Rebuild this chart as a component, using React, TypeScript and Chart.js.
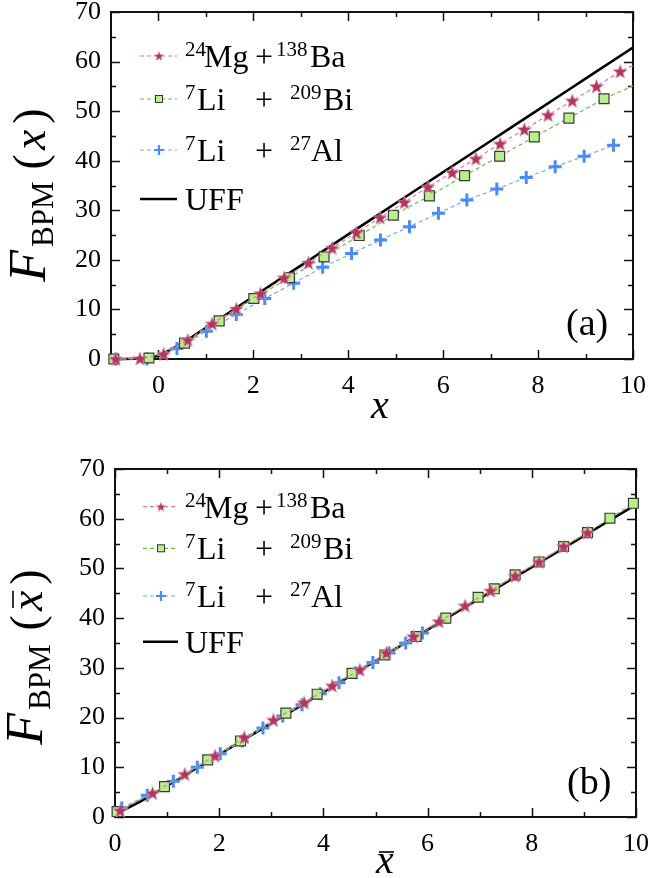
import React, { useEffect, useRef } from 'react';
import { Chart, registerables } from 'chart.js';
Chart.register(...registerables);

// ---------------- Panel (a) data ----------------
const mgBaXA = [-0.9, -0.39, 0.11, 0.62, 1.13, 1.64, 2.15, 2.65, 3.16, 3.66, 4.17, 4.67, 5.18, 5.68, 6.19, 6.69, 7.2, 7.71, 8.21, 8.72, 9.23, 9.73, 10.24];
const mgBaYA = [0.0, 0.1, 1.0, 3.8, 7.1, 10.1, 13.2, 16.4, 19.4, 22.4, 25.5, 28.5, 31.6, 34.7, 37.6, 40.4, 43.4, 46.3, 49.2, 52.1, 55.0, 58.0, 60.3];
const liBiXA = [-0.94, -0.2, 0.55, 1.28, 2.01, 2.76, 3.49, 4.23, 4.95, 5.71, 6.45, 7.19, 7.92, 8.65, 9.39, 10.12];
const liBiYA = [0.0, 0.2, 3.2, 7.7, 12.2, 16.4, 20.6, 24.9, 29.0, 32.9, 37.0, 40.9, 44.8, 48.6, 52.5, 55.6];
const liAlXA = [-0.9, -0.24, 0.39, 1.01, 1.64, 2.24, 2.85, 3.46, 4.07, 4.68, 5.29, 5.9, 6.5, 7.13, 7.75, 8.36, 8.97, 9.59];
const liAlYA = [0.0, 0.0, 2.1, 5.6, 9.0, 12.2, 15.3, 18.5, 21.3, 24.0, 26.7, 29.4, 32.1, 34.3, 36.6, 38.8, 40.9, 43.1];
const uffXA = [-1, -0.5, -0.25, 0, 0.25, 0.5, 0.75, 1, 1.5, 2, 3, 4, 5, 6, 7, 8, 9, 10];
const uffYA = [0.0, 0.04, 0.19, 0.69, 1.86, 3.18, 4.72, 6.29, 9.42, 12.57, 18.85, 25.13, 31.42, 37.7, 43.98, 50.27, 56.55, 62.83];

// ---------------- Panel (b) data ----------------
const mgBaXB = [0.1, 0.72, 1.34, 1.92, 2.48, 3.04, 3.63, 4.17, 4.7, 5.21, 5.73, 6.22, 6.72, 7.21, 7.68, 8.14, 8.61, 9.07];
const mgBaYB = [1.3, 4.8, 8.6, 12.3, 16.0, 19.5, 23.0, 26.4, 29.6, 33.0, 36.3, 39.3, 42.5, 45.5, 48.5, 51.3, 54.4, 57.2];
const liBiXB = [0.04, 0.95, 1.78, 2.41, 3.28, 3.88, 4.55, 5.18, 5.78, 6.35, 6.97, 7.28, 7.68, 8.14, 8.61, 9.07, 9.5, 9.95];
const liBiYB = [1.1, 6.1, 11.5, 15.3, 20.9, 24.7, 28.9, 32.6, 36.3, 40.0, 44.2, 45.9, 48.7, 51.3, 54.4, 57.2, 60.1, 63.1];
const liAlXB = [0.13, 0.62, 1.12, 1.58, 2.02, 2.44, 2.84, 3.22, 3.59, 3.94, 4.3, 4.62, 4.95, 5.26, 5.58, 5.9];
const liAlYB = [1.8, 4.4, 7.2, 10.0, 12.7, 15.3, 17.9, 20.3, 22.6, 24.8, 27.0, 29.0, 31.1, 33.0, 35.0, 37.0];
const uffXB = [0, 0.25, 0.5, 0.75, 1, 1.5, 2, 3, 4, 5, 6, 7, 8, 9, 10];
const uffYB = [0.69, 1.86, 3.18, 4.72, 6.29, 9.42, 12.57, 18.85, 25.13, 31.42, 37.7, 43.98, 50.27, 56.55, 62.83];

// ---------------- ticks ----------------
const xMajorTicks = [0, 2, 4, 6, 8, 10];
const xMinorTicks = [1, 3, 5, 7, 9];
const yMajorTicks = [0, 10, 20, 30, 40, 50, 60, 70];
const yMinorTicks = [5, 15, 25, 35, 45, 55, 65];

const seriesNames = ['24Mg+138Ba', '7Li + 209Bi', '7Li + 27Al', 'UFF'];

const SERIF = '"Liberation Serif", "Times New Roman", "DejaVu Serif", serif';
const MG = '#B2345F';
const MG_LINE = '#DE7B9A';
const GREEN_FILL = '#B8F08B';
const GREEN_LINE = '#6CBB48';
const BLUE = '#4A8CF5';
const BLUE_LINE = '#78A9F5';

const pts = (xs: number[], ys: number[]) => xs.map((x, i) => ({ x, y: ys[i] }));

function makeStar(outer: number, inner: number) {
  const s = Math.ceil(outer * 2 + 4);
  const c = document.createElement('canvas');
  c.width = s; c.height = s;
  const ctx = c.getContext('2d')!;
  ctx.beginPath();
  for (let i = 0; i < 10; i++) {
    const a = -Math.PI / 2 + (i * Math.PI) / 5;
    const r = i % 2 ? inner : outer;
    const px = s / 2 + r * Math.cos(a);
    const py = s / 2 + r * Math.sin(a) + outer * 0.08;
    if (i === 0) ctx.moveTo(px, py); else ctx.lineTo(px, py);
  }
  ctx.closePath();
  ctx.fillStyle = MG;
  ctx.fill();
  ctx.strokeStyle = '#E8A0B4';
  ctx.lineWidth = 0.6;
  ctx.stroke();
  return c;
}

type Seg = { t: string; font: string; dy?: number; gap?: number; bar?: number; barShift?: number; at?: number };

function drawSegs(ctx: CanvasRenderingContext2D, segs: Seg[], x: number, y: number) {
  let cx = x;
  for (const s of segs) {
    if (s.at !== undefined) cx = x + s.at;
    ctx.font = s.font;
    const w = ctx.measureText(s.t).width;
    ctx.fillText(s.t, cx, y + (s.dy || 0));
    if (s.bar) {
      const sh = s.barShift || 0;
      ctx.save();
      ctx.lineWidth = 1.6;
      ctx.beginPath();
      ctx.moveTo(cx + w * 0.1 + sh, y - s.bar);
      ctx.lineTo(cx + w * 0.95 + sh, y - s.bar);
      ctx.stroke();
      ctx.restore();
    }
    cx += w + (s.gap || 0);
  }
}
function segsWidth(ctx: CanvasRenderingContext2D, segs: Seg[]) {
  let w = 0;
  for (const s of segs) { ctx.font = s.font; w += ctx.measureText(s.t).width + (s.gap || 0); }
  return w;
}

const reg = (size: number) => `${size}px ${SERIF}`;
const ital = (size: number) => `italic ${size}px ${SERIF}`;

function legendRows(): Seg[][] {
  const M = reg(32), S = reg(21), up = -11;
  return [
    [{ t: '24', font: S, dy: up, at: 0 }, { t: 'Mg', font: M, at: 19 }, { t: '+', font: M, at: 70 }, { t: '138', font: S, dy: up, at: 91 }, { t: 'Ba', font: M, at: 125 }],
    [{ t: '7', font: S, dy: up, at: 0 }, { t: 'Li', font: M, at: 12 }, { t: '+', font: M, at: 70 }, { t: '209', font: S, dy: up, at: 105 }, { t: 'Bi', font: M, at: 138 }],
    [{ t: '7', font: S, dy: up, at: 0 }, { t: 'Li', font: M, at: 12 }, { t: '+', font: M, at: 70 }, { t: '27', font: S, dy: up, at: 105 }, { t: 'Al', font: M, at: 126 }],
    [{ t: 'UFF', font: M, at: 0 }],
  ];
}

type Deco = {
  legendX: number;
  lineL: number; lineR: number; textX: number;
  rows: number[];
  yLabel: Seg[]; yLabelX: number; yLabelCY: number;
  xLabel: Seg[]; xLabelCX: number; xLabelY: number;
  panel: string; panelX: number; panelY: number;
};

function decoPlugin(d: Deco, legendStar: HTMLCanvasElement) {
  return {
    id: 'deco',
    beforeDatasetsDraw(chart: any) {
      const { ctx, chartArea: a, scales } = chart;
      const x = scales.x, y = scales.y;
      ctx.save();
      ctx.strokeStyle = '#111';
      ctx.lineWidth = 1.5;
      const tick = (vals: number[], len: number, horiz: boolean) => {
        for (const v of vals) {
          if (horiz) {
            const p = Math.round(x.getPixelForValue(v)) + 0.5;
            ctx.beginPath();
            ctx.moveTo(p, a.bottom); ctx.lineTo(p, a.bottom - len);
            ctx.moveTo(p, a.top); ctx.lineTo(p, a.top + len);
            ctx.stroke();
          } else {
            const p = Math.round(y.getPixelForValue(v)) + 0.5;
            ctx.beginPath();
            ctx.moveTo(a.left, p); ctx.lineTo(a.left + len, p);
            ctx.moveTo(a.right, p); ctx.lineTo(a.right - len, p);
            ctx.stroke();
          }
        }
      };
      tick(xMajorTicks, 9, true);
      tick(xMinorTicks, 5, true);
      tick(yMajorTicks, 9, false);
      tick(yMinorTicks, 5, false);
      ctx.lineWidth = 2;
      ctx.strokeRect(a.left, a.top, a.right - a.left, a.bottom - a.top);
      ctx.restore();
    },
    afterDraw(chart: any) {
      const { ctx } = chart;
      ctx.save();
      ctx.fillStyle = '#000';
      ctx.strokeStyle = '#000';
      ctx.textBaseline = 'alphabetic';
      ctx.textAlign = 'left';
      const rows = legendRows();
      const ds = chart.data.datasets;
      for (let i = 0; i < 4; i++) {
        const cy = d.rows[i];
        const dset = ds[i];
        ctx.save();
        ctx.beginPath();
        ctx.strokeStyle = dset.borderColor;
        ctx.lineWidth = i === 3 ? 2.5 : 1.2;
        ctx.setLineDash(i === 3 ? [] : [4, 3]);
        ctx.moveTo(d.lineL, cy); ctx.lineTo(d.lineR, cy);
        ctx.stroke();
        ctx.setLineDash([]);
        if (i === 0) {
          ctx.drawImage(legendStar, d.legendX - legendStar.width / 2, cy - legendStar.height / 2);
        } else if (i === 1) {
          ctx.fillStyle = GREEN_FILL;
          ctx.strokeStyle = '#333';
          ctx.lineWidth = 1;
          ctx.fillRect(d.legendX - 3.5, cy - 3.5, 7, 7);
          ctx.strokeRect(d.legendX - 3.5, cy - 3.5, 7, 7);
        } else if (i === 2) {
          ctx.strokeStyle = BLUE;
          ctx.lineWidth = 2.2;
          ctx.beginPath();
          ctx.moveTo(d.legendX - 5, cy); ctx.lineTo(d.legendX + 5, cy);
          ctx.moveTo(d.legendX, cy - 5); ctx.lineTo(d.legendX, cy + 5);
          ctx.stroke();
        }
        ctx.restore();
        ctx.fillStyle = '#000';
        drawSegs(ctx, rows[i], d.textX, cy + 11);
      }
      ctx.save();
      ctx.translate(d.yLabelX, d.yLabelCY);
      ctx.rotate(-Math.PI / 2);
      const w = segsWidth(ctx, d.yLabel);
      drawSegs(ctx, d.yLabel, -w / 2, 0);
      ctx.restore();
      const wx = segsWidth(ctx, d.xLabel);
      drawSegs(ctx, d.xLabel, d.xLabelCX - wx / 2, d.xLabelY);
      ctx.font = reg(38);
      ctx.fillText(d.panel, d.panelX, d.panelY);
      ctx.restore();
    },
  };
}

const zeroPad = (s: any) => { s.paddingLeft = 0; s.paddingRight = 0; s.paddingTop = 0; s.paddingBottom = 0; };

function makeConfig(
  sets: { mgX: number[]; mgY: number[]; biX: number[]; biY: number[]; alX: number[]; alY: number[]; uX: number[]; uY: number[] },
  xMin: number, yAxisWidth: number, xAxisHeight: number, xPad: number, pad: any, clip: any, star: HTMLCanvasElement, plugin: any
) {
  const tickFont = { family: SERIF, size: 26, lineHeight: 0.8 };
  return {
    type: 'line',
    data: {
      datasets: [
        { label: seriesNames[0], data: pts(sets.mgX, sets.mgY), borderColor: MG_LINE, borderWidth: 1.2, borderDash: [4, 3], pointStyle: star, pointRadius: 7, pointBackgroundColor: MG, fill: false, clip },
        { label: seriesNames[1], data: pts(sets.biX, sets.biY), borderColor: GREEN_LINE, borderWidth: 1.2, borderDash: [4, 3], pointStyle: 'rect', pointRadius: 7, pointBackgroundColor: GREEN_FILL, pointBorderColor: '#3A3A3A', pointBorderWidth: 1.2, fill: false, clip },
        { label: seriesNames[2], data: pts(sets.alX, sets.alY), borderColor: BLUE_LINE, borderWidth: 1.2, borderDash: [4, 3], pointStyle: 'cross', pointRadius: 6.5, pointBorderColor: BLUE, pointBorderWidth: 3, fill: false, clip },
        { label: seriesNames[3], data: pts(sets.uX, sets.uY), borderColor: '#000', borderWidth: 2.6, pointRadius: 0, cubicInterpolationMode: 'monotone', fill: false, clip },
      ],
    },
    options: {
      responsive: false,
      animation: false,
      events: [],
      layout: { padding: pad },
      plugins: { legend: { display: false }, tooltip: { enabled: false }, title: { display: false } },
      scales: {
        x: {
          type: 'linear', min: xMin, max: 10,
          grid: { display: false, drawTicks: false }, border: { display: false },
          ticks: { font: tickFont, color: '#000', padding: xPad, maxRotation: 0, autoSkip: false },
          afterBuildTicks: (s: any) => { s.ticks = xMajorTicks.map((v) => ({ value: v })); },
          afterFit: (s: any) => { s.height = xAxisHeight; zeroPad(s); },
        },
        y: {
          type: 'linear', min: 0, max: 70,
          grid: { display: false, drawTicks: false }, border: { display: false },
          ticks: { font: tickFont, color: '#000', padding: 10, autoSkip: false },
          afterBuildTicks: (s: any) => { s.ticks = yMajorTicks.map((v) => ({ value: v })); },
          afterFit: (s: any) => { s.width = yAxisWidth; zeroPad(s); },
        },
      },
    },
    plugins: [plugin],
  };
}

export default function App() {
  const refA = useRef<HTMLCanvasElement>(null);
  const refB = useRef<HTMLCanvasElement>(null);
  useEffect(() => {
    const star = makeStar(7.5, 3.1);
    const legendStar = makeStar(5, 2.1);

    const yLabA: Seg[] = [
      { t: 'F', font: ital(52), gap: 3 },
      { t: 'BPM', font: reg(31), dy: 8, gap: 12 },
      { t: '(', font: reg(46), gap: 4 },
      { t: 'x', font: ital(46), gap: 6 },
      { t: ')', font: reg(46) },
    ];
    const yLabB: Seg[] = [
      { t: 'F', font: ital(52), gap: 3, bar: 43, barShift: 6 },
      { t: 'BPM', font: reg(31), dy: 8, gap: 14 },
      { t: '(', font: reg(46), gap: 4 },
      { t: 'x', font: ital(46), gap: 6, bar: 29, barShift: 1 },
      { t: ')', font: reg(46) },
    ];

    const plugA = decoPlugin({
      legendX: 159, lineL: 140, lineR: 177, textX: 185, rows: [56, 99, 150, 199],
      yLabel: yLabA, yLabelX: 45, yLabelCY: 195,
      xLabel: [{ t: 'x', font: ital(40) }], xLabelCX: 380, xLabelY: 418,
      panel: '(a)', panelX: 566, panelY: 335,
    }, legendStar);
    const plugB = decoPlugin({
      legendX: 161, lineL: 143, lineR: 178, textX: 185, rows: [66.7, 108.3, 156, 201.7],
      yLabel: yLabB, yLabelX: 42, yLabelCY: 217,
      xLabel: [{ t: 'x', font: ital(40), bar: 21, barShift: 1 }], xLabelCX: 385, xLabelY: 433,
      panel: '(b)', panelX: 567, panelY: 354,
    }, legendStar);

    const chA = new Chart(refA.current!, makeConfig(
      { mgX: mgBaXA, mgY: mgBaYA, biX: liBiXA, biY: liBiYA, alX: liAlXA, alY: liAlYA, uX: uffXA, uY: uffYA },
      -1, 111, 81, 17, { left: 0, right: 18, top: 12, bottom: 0 }, { left: 12, top: 12, right: 0, bottom: 12 }, star, plugA
    ) as any);
    const chB = new Chart(refB.current!, makeConfig(
      { mgX: mgBaXB, mgY: mgBaYB, biX: liBiXB, biY: liBiYB, alX: liAlXB, alY: liAlYB, uX: uffXB, uY: uffYB },
      0, 115, 61, 17, { left: 0, right: 15, top: 29, bottom: 0 }, false, star, plugB
    ) as any);
    return () => { chA.destroy(); chB.destroy(); };
  }, []);

  return (
    <div style={{ position: 'fixed', left: 0, top: 0, width: 651, height: 878, background: '#fff' }}>
      <canvas ref={refA} width={651} height={440} style={{ position: 'absolute', left: 0, top: 0, width: 651, height: 440 }} />
      <canvas ref={refB} width={651} height={438} style={{ position: 'absolute', left: 0, top: 440, width: 651, height: 438 }} />
    </div>
  );
}
